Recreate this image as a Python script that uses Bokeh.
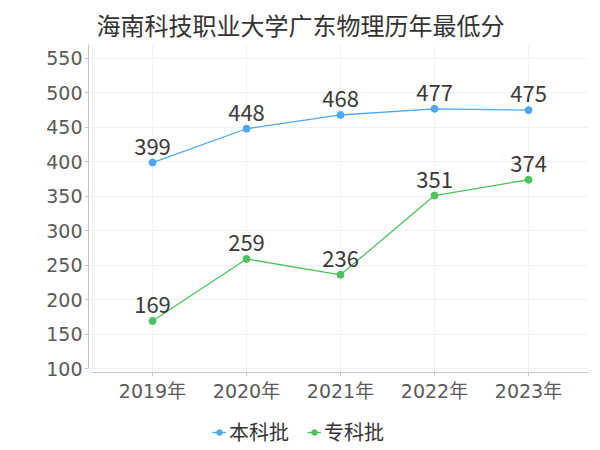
from bokeh.plotting import figure
from bokeh.models import ColumnDataSource, FixedTicker, Legend, LegendItem, Range1d, Title
from bokeh.layouts import column
from bokeh.core.properties import value
from bokeh.embed import file_html
from bokeh.resources import INLINE

years = ["2019年", "2020年", "2021年", "2022年", "2023年"]
benke = [399, 448, 468, 477, 475]
zhuanke = [169, 259, 236, 351, 374]
y_ticks = [100, 150, 200, 250, 300, 350, 400, 450, 500, 550]
title_text = "海南科技职业大学广东物理历年最低分"

FONT = "Noto Sans CJK SC"
TICK_FONT = "'DejaVu Sans', 'Noto Sans CJK SC'"
BLUE = "#4ea8f4"
GREEN = "#4dc35b"

xs = list(range(len(years)))

p = figure(frame_width=500, frame_height=328, output_backend="svg", toolbar_location=None,
           x_range=Range1d(-0.681, 4.638), y_range=Range1d(94.2, 570.3),
           min_border_left=88, min_border_right=4, min_border_top=44, min_border_bottom=24)
p.outline_line_color = None

t = Title(text=title_text, text_font=FONT, text_font_size="24px",
          text_font_style="normal", text_color="#333333", offset=8, standoff=6)
p.add_layout(t, "above")

src_b = ColumnDataSource(dict(x=xs, y=benke, t=[str(v) for v in benke]))
src_z = ColumnDataSource(dict(x=xs, y=zhuanke, t=[str(v) for v in zhuanke]))

p.line("x", "y", source=src_b, line_color=BLUE, line_width=1.3)
p.scatter("x", "y", source=src_b, size=7, fill_color=BLUE, line_color=BLUE)
p.line("x", "y", source=src_z, line_color=GREEN, line_width=1.3)
p.scatter("x", "y", source=src_z, size=7, fill_color=GREEN, line_color=GREEN)

for src in (src_b, src_z):
    p.text("x", "y", text="t", source=src, text_align="center", text_baseline="bottom",
           y_offset=-8, text_font=value(FONT), text_font_size="22px", text_color="#3a3a3a")

p.xaxis.ticker = FixedTicker(ticks=xs)
p.xaxis.major_label_overrides = {i: years[i] for i in xs}
p.xaxis.bounds = (-0.64, 4.638)
p.yaxis.ticker = FixedTicker(ticks=y_ticks)
p.yaxis.bounds = (100, 570.3)

for ax in (p.xaxis[0], p.yaxis[0]):
    ax.axis_line_color = "#c6c6c6"
    ax.major_tick_line_color = "#c6c6c6"
    ax.minor_tick_line_color = None
    ax.major_tick_in = 0
    ax.major_tick_out = 4
    ax.major_label_text_font = TICK_FONT
    ax.major_label_text_color = "#5a5a5a"
    ax.major_label_text_font_size = "19px"
p.yaxis[0].major_label_standoff = 2
p.xaxis[0].major_label_standoff = 3

p.xgrid.ticker = FixedTicker(ticks=[-0.64] + xs + [4.638])
p.xgrid.grid_line_color = "#f2f2f2"
p.ygrid.grid_line_color = "#f2f2f2"

# legend in a small companion figure
q = figure(width=592, height=46, output_backend="svg", toolbar_location=None,
           x_range=Range1d(0, 1), y_range=Range1d(0, 1), min_border=0)
q.axis.visible = False
q.grid.visible = False
q.outline_line_color = None
off = dict(x=[-10, -11], y=[-10, -11])
qlb = q.line("x", "y", source=ColumnDataSource(off), line_color=BLUE, line_width=1.3)
qcb = q.scatter("x", "y", source=ColumnDataSource(off), size=7, fill_color=BLUE, line_color=BLUE)
qlz = q.line("x", "y", source=ColumnDataSource(off), line_color=GREEN, line_width=1.3)
qcz = q.scatter("x", "y", source=ColumnDataSource(off), size=7, fill_color=GREEN, line_color=GREEN)

legend = Legend(items=[LegendItem(label="本科批", renderers=[qlb, qcb]),
                       LegendItem(label="专科批", renderers=[qlz, qcz])],
                orientation="horizontal", location=(124, 4),
                label_text_font=FONT, label_text_font_size="20px", label_text_color="#333333",
                glyph_width=14, label_standoff=3, spacing=18, border_line_color=None,
                background_fill_alpha=0, padding=2, margin=0)
q.add_layout(legend, "center")

open("out.html", "w").write(file_html(column(p, q, spacing=0), INLINE))
